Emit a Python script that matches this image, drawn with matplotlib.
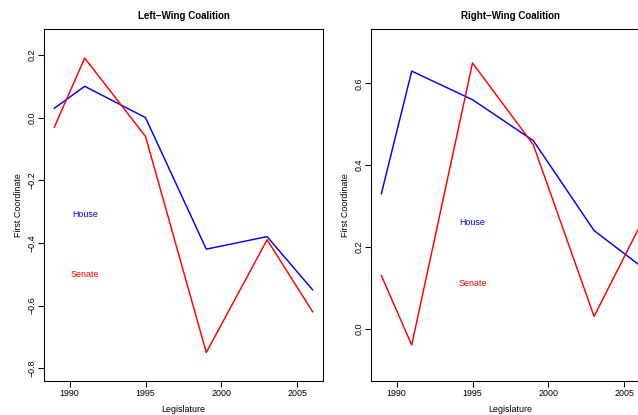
import matplotlib
matplotlib.use('Agg')
import numpy as np
import matplotlib.pyplot as plt

plt.rcParams.update({
    'font.family': ['Liberation Sans', 'DejaVu Sans'],
    'font.size': 6.4,
    'axes.linewidth': 0.75,
    'xtick.major.width': 0.75,
    'ytick.major.width': 0.75,
    'xtick.major.size': 4,
    'ytick.major.size': 4,
    'xtick.major.pad': 1.5,
    'ytick.major.pad': 1.5,
})

# ── Data ──────────────────────────────────────────────────────
years = [1989, 1991, 1995, 1999, 2003, 2006]

left_house  = [0.03, 0.10, 0.00, -0.42, -0.38, -0.55]
left_senate = [-0.03, 0.19, -0.06, -0.75, -0.39, -0.62]

right_house  = [0.33, 0.63, 0.56, 0.46, 0.24, 0.155]
right_senate = [0.13, -0.04, 0.65, 0.45, 0.03, 0.25]

titles = ['Left\u2212Wing Coalition', 'Right\u2212Wing Coalition']
xticks = [1990, 1995, 2000, 2005]
left_yticks  = [-0.8, -0.6, -0.4, -0.2, 0.0, 0.2]
right_yticks = [0.0, 0.2, 0.4, 0.6]

# label anchors (data coords)
left_lab  = {'House': (1991, -0.31), 'Senate': (1991, -0.50)}
right_lab = {'House': (1995, 0.26), 'Senate': (1995, 0.11)}

BLUE = '#0000FF'
RED  = '#FF0000'

# ── Figure ────────────────────────────────────────────────────
W, H = 638, 415
fig = plt.figure(figsize=(W/100, H/100), dpi=100, facecolor='white')

def panel(rect, house, senate, title, yticks, ylim, labs):
    ax = fig.add_axes(rect)
    ax.plot(years, house, color=BLUE, lw=1.05)
    ax.plot(years, senate, color=RED, lw=1.05)
    ax.set_xlim(1988.32, 2006.68)
    ax.set_ylim(*ylim)
    ax.set_xticks(xticks)
    ax.set_yticks(yticks)
    ax.set_yticklabels([f'{v:.1f}'.replace('-', '\u2212') for v in yticks],
                       rotation=90, va='center')
    ax.set_title(title, fontsize=7, fontweight='bold', pad=7.5)
    ax.set_xlabel('Legislature', labelpad=5.5)
    ax.set_ylabel('First Coordinate', labelpad=3)
    ax.text(*labs['House'], 'House', color=BLUE, ha='center', va='center')
    ax.text(*labs['Senate'], 'Senate', color=RED, ha='center', va='center')
    ax.tick_params(direction='out')
    return ax

bottom = 34 / H
height = 352 / H
width = 279 / W
panel([44 / W, bottom, width, height], left_house, left_senate,
      titles[0], left_yticks, (-0.841, 0.283), left_lab)
panel([371 / W, bottom, width, height], right_house, right_senate,
      titles[1], right_yticks, (-0.128, 0.733), right_lab)

fig.savefig('out.png', dpi=100, facecolor='white')
